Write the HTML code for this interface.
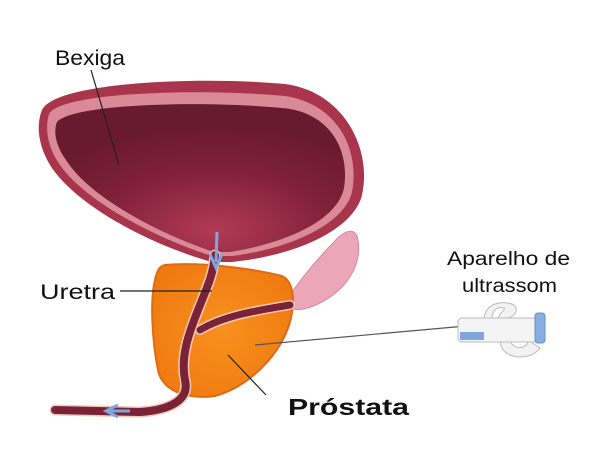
<!DOCTYPE html>
<html><head><meta charset="utf-8"><style>
html,body{margin:0;padding:0;background:#fff;width:600px;height:450px;overflow:hidden}
svg{display:block}
text{font-family:"Liberation Sans",sans-serif;fill:#111}
</style></head><body>
<svg width="600" height="450" viewBox="0 0 600 450" xmlns="http://www.w3.org/2000/svg">
<defs>
<radialGradient id="cav" cx="0.55" cy="0.85" r="0.7">
<stop offset="0" stop-color="#b23a55"/><stop offset="0.6" stop-color="#7e2038"/><stop offset="1" stop-color="#6a1a2e"/>
</radialGradient>
<radialGradient id="pr" cx="0.5" cy="0.5" r="0.6">
<stop offset="0" stop-color="#f9901f"/><stop offset="1" stop-color="#ef7a10"/>
</radialGradient>
</defs>
<path d="M285,302 C300,280 318,258 333,243 C344,230 356,226 358,240 C362,264 348,288 322,302 C306,310 292,314 285,302Z" fill="#eba7b8" stroke="#d88aa0"/>
<path d="M42,110 C55,82 200,76 285,84 C345,92 372,150 362,195 C354,228 300,255 232,262 L212,262 C150,245 75,205 50,165 C38,145 36,125 42,110Z" fill="#a8354b"/>
<path d="M49,114 C62,92 200,88 285,96 C338,104 360,150 352,192 C345,222 295,248 232,256 L212,256 C155,238 82,200 58,162 C47,145 45,127 49,114Z" fill="#d98a96"/>
<path d="M57,122 C72,104 200,100 282,108 C330,112 350,150 344,188 C338,218 292,242 230,252 L214,252 C160,234 90,198 66,160 C56,146 53,132 57,122Z" fill="url(#cav)"/>
<path d="M165,265 C200,262 250,268 282,276 C294,282 294,300 292,312 C288,345 255,385 215,396 C185,400 162,390 158,370 C152,340 150,300 155,280 C157,270 160,266 165,265Z" fill="url(#pr)" stroke="#e06a10" stroke-width="2"/>
<g fill="none" stroke-linecap="round">
<path d="M215,255 C213,275 208,285 200,305 C190,330 180,355 185,380 C190,400 170,410 140,412 L55,410" stroke="#f4c9b8" stroke-width="11"/>
<path d="M200,330 C225,315 260,310 290,305" stroke="#f4c9b8" stroke-width="10"/>
<path d="M215,255 C213,275 208,285 200,305 C190,330 180,355 185,380 C190,400 170,410 140,412 L55,410" stroke="#7a2236" stroke-width="8"/>
<path d="M200,330 C225,315 260,310 290,305" stroke="#7a2236" stroke-width="7"/>
</g>
<path d="M217,232 L216,262 M210,254 L216,268 L222,254" stroke="#7fa6de" stroke-width="3" fill="none"/>
<path d="M130,411 L108,411 M118,405 L106,411 L118,417" stroke="#7fa6de" stroke-width="3" fill="none"/>
<g stroke="#222" stroke-width="1.2">
<line x1="91" y1="70" x2="119" y2="165"/>
<line x1="120" y1="291" x2="212" y2="291"/>
<line x1="228" y1="355" x2="266" y2="395"/>
<line x1="255" y1="345" x2="466" y2="326" stroke="#555"/>
</g>
<g>
<path d="M484,318 C486,305 498,300 512,304 C520,308 516,316 508,318 L498,318 C500,312 506,310 504,308 C496,306 492,312 492,318Z" fill="#f2f2f2" stroke="#bbb"/>
<path d="M500,340 C500,360 530,362 540,348 L528,340 C528,350 512,350 510,340Z" fill="#f2f2f2" stroke="#bbb"/>
<rect x="458" y="318" width="80" height="24" rx="4" fill="#f4f4f4" stroke="#bbb"/>
<rect x="460" y="332" width="24" height="8" fill="#7fa6de"/>
<rect x="535" y="313" width="10" height="30" rx="3" fill="#86aee2" stroke="#6a90c8"/>
</g>
<text x="55" y="65" font-size="21" textLength="70" lengthAdjust="spacingAndGlyphs">Bexiga</text>
<text x="40" y="299" font-size="21" textLength="75" lengthAdjust="spacingAndGlyphs">Uretra</text>
<text x="288" y="415" font-size="23" font-weight="bold" textLength="121" lengthAdjust="spacingAndGlyphs">Próstata</text>
<text x="447" y="265" font-size="19" textLength="123" lengthAdjust="spacingAndGlyphs">Aparelho de</text>
<text x="462" y="292" font-size="19" textLength="95" lengthAdjust="spacingAndGlyphs">ultrassom</text>
</svg>
</body></html>
